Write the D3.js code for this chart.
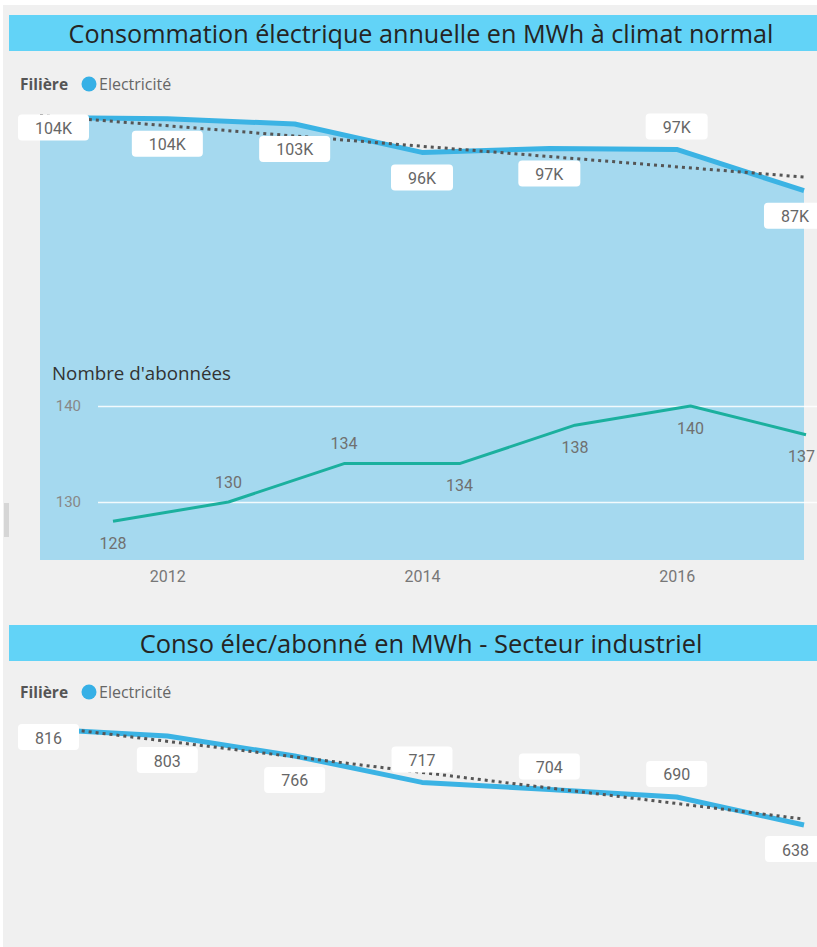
<!DOCTYPE html>
<html><head><meta charset="utf-8">
<script src="https://cdn.jsdelivr.net/npm/d3@7/dist/d3.min.js"></script>
<style>body{margin:0;background:#fff;overflow:hidden}</style>
</head><body>
<svg id="c" width="817" height="947"></svg>
<script>
// ---------- data ----------
const years = [2011, 2012, 2013, 2014, 2015, 2016, 2017];
const consoMWh = [104100, 103800, 102600, 95900, 96800, 96600, 86900];
const consoTrend = [104600, 90100];          // trend line at first and last year
const abonnes = [128, 130, 134, 134, 138, 140, 137];
const abonnesTicks = [130, 140];
const consoParAbonne = [816, 803, 766, 717, 704, 690, 638];
const consoParAbonneTrend = [822, 649];      // trend line at first and last year
const xTicks = [2012, 2014, 2016];
const title1 = "Consommation électrique annuelle en MWh à climat normal";
const title2 = "Conso élec/abonné en MWh - Secteur industriel";
const legendTitle = "Filière";
const legendItem = "Electricité";
const subTitle = "Nombre d'abonnées";

// label placement (style, not data)
const placeTop = ["mid", "below", "below", "below", "below", "above", "below"];
const placeSub = ["below", "above", "above", "below", "below", "below", "below"];
const placeBot = ["mid", "below", "below", "above", "above", "above", "below"];

// ---------- styles ----------
const C = {
  bg: "#f0f0f0", bar: "#62d3f7", title: "#252423",
  line: "#3bb3e4", area: "#a5d9ef", teal: "#1bb09e",
  trend: "#555555", label: "#666666", axis: "#777777"
};
const svg = d3.select("#c");

svg.append("rect").attr("x", 3).attr("y", 5).attr("width", 814).attr("height", 942).attr("fill", C.bg);
svg.append("rect").attr("x", 4).attr("y", 503).attr("width", 5).attr("height", 34).attr("fill", "#d6d6d6");

function fitText(t, base, targetWidth) {
  const w = t.node().getComputedTextLength();
  t.style("font-size", (base * targetWidth / w).toFixed(2) + "px");
}

function titleBar(y, text, targetWidth) {
  svg.append("rect").attr("x", 9).attr("y", y).attr("width", 808).attr("height", 36).attr("fill", C.bar);
  const t = svg.append("text").attr("x", 421).attr("y", y + 18).attr("text-anchor", "middle")
    .attr("dominant-baseline", "central").attr("fill", C.title)
    .style("font-family", "'Open Sans', sans-serif").style("font-size", "24px").text(text);
  fitText(t, 24, targetWidth);
}
titleBar(15, title1, 705);
titleBar(625, title2, 563);

function legend(y) {
  svg.append("text").attr("x", 20).attr("y", y).attr("dominant-baseline", "central")
    .attr("fill", "#555").style("font-family", "'Open Sans', sans-serif").style("font-size", "15.5px")
    .style("font-weight", "700").text(legendTitle);
  svg.append("circle").attr("cx", 89).attr("cy", y).attr("r", 7.5).attr("fill", "#36b0e6");
  svg.append("text").attr("x", 99).attr("y", y).attr("dominant-baseline", "central")
    .attr("fill", "#666").style("font-family", "'Open Sans', sans-serif").style("font-size", "16px")
    .text(legendItem);
}
legend(84);
legend(692);

const x = d3.scaleLinear().domain([2011, 2017]).range([40, 804]);

function boxLabels(g, vals, yScale, place, fmt, offs) {
  vals.forEach((v, i) => {
    const txt = fmt(v);
    const t = g.append("text").attr("text-anchor", "middle").attr("dominant-baseline", "central")
      .attr("fill", C.label).style("font-family", "Roboto, sans-serif").style("font-size", "16px").text(txt);
    const w = t.node().getComputedTextLength() + 34, h = 26;
    let cx = x(years[i]);
    cx = Math.max(x.range()[0] - 22 + w / 2, Math.min(x.range()[1] + 22 - w / 2, cx));
    const cy = yScale(v) + offs[place[i]];
    t.attr("x", cx).attr("y", cy + 1);
    g.insert("rect", () => t.node()).attr("x", cx - w / 2).attr("y", cy - h / 2)
      .attr("width", w).attr("height", h).attr("rx", 4).attr("fill", "#fff");
  });
}

// ---------- top chart ----------
const yTop = d3.scaleLinear().domain([0, 110000]).range([560, 560 - 110 * 4.25]);
const gTop = svg.append("g");
gTop.append("path").datum(years)
  .attr("d", d3.area().x(d => x(d)).y0(yTop(0)).y1((d, i) => yTop(consoMWh[i])))
  .attr("fill", C.area);
gTop.append("path").datum(years)
  .attr("d", d3.line().x(d => x(d)).y((d, i) => yTop(consoMWh[i])))
  .attr("fill", "none").attr("stroke", C.line).attr("stroke-width", 5).attr("stroke-linejoin", "round");
const trendYears = [years[0], years[years.length - 1]];
gTop.append("path").datum(trendYears)
  .attr("d", d3.line().x(d => x(d)).y((d, i) => yTop(consoTrend[i])))
  .attr("fill", "none").attr("stroke", C.trend).attr("stroke-width", 3).attr("stroke-dasharray", "3 4");

// x axis
const xAxis = d3.axisBottom(x).tickValues(xTicks).tickFormat(d3.format("d")).tickSize(0);
const ax = svg.append("g").attr("transform", "translate(0,568)").call(xAxis);
ax.select(".domain").remove();
ax.selectAll("text").attr("fill", C.axis).style("font-family", "Roboto, sans-serif").style("font-size", "16px");

// subscribers overlay
const xSub = d3.scaleLinear().domain([2011, 2017]).range([113, 806]);
const ySub = d3.scaleLinear().domain([130, 140]).range([502, 406]);
const gSub = svg.append("g");
const st = gSub.append("text").attr("x", 52).attr("y", 372).attr("dominant-baseline", "central")
  .attr("fill", "#333").style("font-family", "'Open Sans', sans-serif").style("font-size", "16.5px").text(subTitle);
fitText(st, 16.5, 179);
const yAx = d3.axisLeft(ySub).tickValues(abonnesTicks).tickSize(-(817 - 98)).tickPadding(17);
const ya = gSub.append("g").attr("transform", "translate(98,0)").call(yAx);
ya.select(".domain").remove();
ya.selectAll("line").attr("stroke", "#ffffff").attr("stroke-width", 1.5).attr("stroke-opacity", 0.85);
ya.selectAll("text").attr("fill", "#888").style("font-family", "Roboto, sans-serif").style("font-size", "15px");
gSub.append("path").datum(years)
  .attr("d", d3.line().x(d => xSub(d)).y((d, i) => ySub(abonnes[i])))
  .attr("fill", "none").attr("stroke", C.teal).attr("stroke-width", 3).attr("stroke-linejoin", "round");
abonnes.forEach((v, i) => {
  const t = gSub.append("text").attr("y", ySub(v) + (placeSub[i] === "below" ? 22 : -20))
    .attr("text-anchor", "middle").attr("dominant-baseline", "central").attr("fill", "#707070")
    .style("font-family", "Roboto, sans-serif").style("font-size", "16px").text(v);
  const w = t.node().getComputedTextLength();
  t.attr("x", Math.min(xSub(years[i]), 815 - w / 2));
});

boxLabels(gTop, consoMWh, yTop, placeTop, v => Math.round(v / 1000) + "K", { mid: 10, below: 25, above: -23 });

// ---------- bottom chart ----------
const yBot = d3.scaleLinear().domain([638, 816]).range([825, 729]);
const gBot = svg.append("g");
gBot.append("path").datum(years)
  .attr("d", d3.line().x(d => x(d)).y((d, i) => yBot(consoParAbonne[i])))
  .attr("fill", "none").attr("stroke", C.line).attr("stroke-width", 5).attr("stroke-linejoin", "round");
gBot.append("path").datum(trendYears)
  .attr("d", d3.line().x(d => x(d)).y((d, i) => yBot(consoParAbonneTrend[i])))
  .attr("fill", "none").attr("stroke", C.trend).attr("stroke-width", 3).attr("stroke-dasharray", "3 4");
boxLabels(gBot, consoParAbonne, yBot, placeBot, v => String(v), { mid: 8, below: 24, above: -23 });
</script>
</body></html>
